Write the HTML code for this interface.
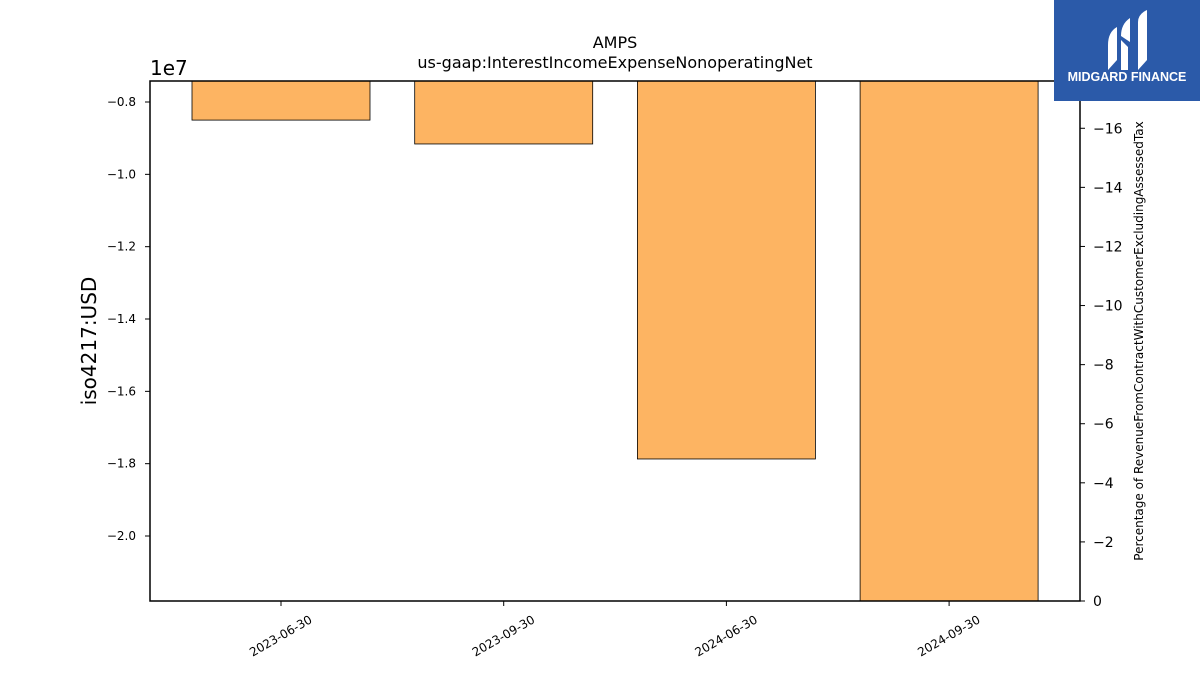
<!DOCTYPE html>
<html><head><meta charset="utf-8"><style>
body{margin:0;background:#fff;font-family:"Liberation Sans","DejaVu Sans",sans-serif}
</style></head><body>
<svg id="c" width="1200" height="675" xmlns="http://www.w3.org/2000/svg" font-family="DejaVu Sans, Liberation Sans, sans-serif">
<defs><clipPath id="pc"><rect x="150" y="81" width="930" height="520"/></clipPath></defs>
<text x="615" y="48" text-anchor="middle" font-size="16">AMPS</text>
<text x="615" y="68" text-anchor="middle" font-size="16">us-gaap:InterestIncomeExpenseNonoperatingNet</text>
<g id="bars" clip-path="url(#pc)"></g>
<rect x="150" y="81" width="930" height="520" fill="none" stroke="#000" stroke-width="1.5"/>
<g id="ax"></g>
<text x="150" y="75" font-size="20">1e7</text>
<text transform="translate(96,341) rotate(-90)" text-anchor="middle" font-size="20">iso4217:USD</text>
<text transform="translate(1143,341) rotate(-90)" text-anchor="middle" font-size="12">Percentage of RevenueFromContractWithCustomerExcludingAssessedTax</text>
<g>
<rect x="1054" y="0" width="146" height="101" fill="#2b5aa9"/>
<path d="M1108 70 L1108 45 Q1108 32 1117 27 L1117 60 Z" fill="#fff"/>
<path d="M1121 70 L1121 40 L1128 47 L1128 70 Z M1121 36 Q1121 24 1130 18 L1130 42 Z" fill="#fff"/>
<path d="M1138 70 L1138 22 Q1138 14 1147 10 L1147 60 Z" fill="#fff"/>
<text x="1127" y="81" text-anchor="middle" font-size="12.5" font-weight="bold" fill="#fff" font-family="Liberation Sans, sans-serif">MIDGARD FINANCE</text>
</g>
</svg>
<script>
const categories=["2023-06-30","2023-09-30","2024-06-30","2024-09-30"];
const values=[-0.85,-0.916,-1.787,-2.2];
const yTicks=[-0.8,-1.0,-1.2,-1.4,-1.6,-1.8,-2.0];
const rTicks=[0,-2,-4,-6,-8,-10,-12,-14,-16];
const NS="http://www.w3.org/2000/svg";
const yMin=-2.1797,yMax=-0.7419;
const y=v=>81+(yMax-v)/(yMax-yMin)*520;
const ry=v=>601+(v/17.6)*520*-1*-1*(1)*(-1)*-1; // placeholder replaced below
const rY=v=>601-(v/-17.6)*520;
const step=222.7, x0=281;
const x=i=>x0+i*step;
const bw=178;
function mk(t,a,p){const e=document.createElementNS(NS,t);for(const k in a)e.setAttribute(k,a[k]);(p||document.getElementById('ax')).appendChild(e);return e;}
const bars=document.getElementById('bars');
values.forEach((v,i)=>{
 const r=mk('rect',{x:x(i)-bw/2,y:y(0),width:bw,height:y(v)-y(0),fill:"#fdb462",stroke:"#000","stroke-width":0.8},bars);
 
 
});
const fmt=v=>(v<0?"\u2212":"")+Math.abs(v).toFixed(1);
yTicks.forEach(v=>{
 const l=mk('line',{x1:145,x2:150,y1:y(v),y2:y(v),stroke:"#000"});
 
 const t=mk('text',{x:136,y:y(v)+4,"text-anchor":"end","font-size":12});
 t.textContent=fmt(v);
 
});
rTicks.forEach(v=>{
 const l=mk('line',{x1:1080,x2:1085,y1:rY(v),y2:rY(v),stroke:"#000"});
 
 const t=mk('text',{x:1093,y:rY(v)+5,"font-size":14});
 t.textContent=(v<0?"\u2212":"")+Math.abs(v);
 
});
categories.forEach((c,i)=>{
 const l=mk('line',{x1:x(i),x2:x(i),y1:601,y2:606,stroke:"#000"});
 
 const t=mk('text',{transform:`translate(${x(i)+32},${622}) rotate(-30)`,"text-anchor":"end","font-size":12});
 t.textContent=c;
 
});
</script>
</body></html>
